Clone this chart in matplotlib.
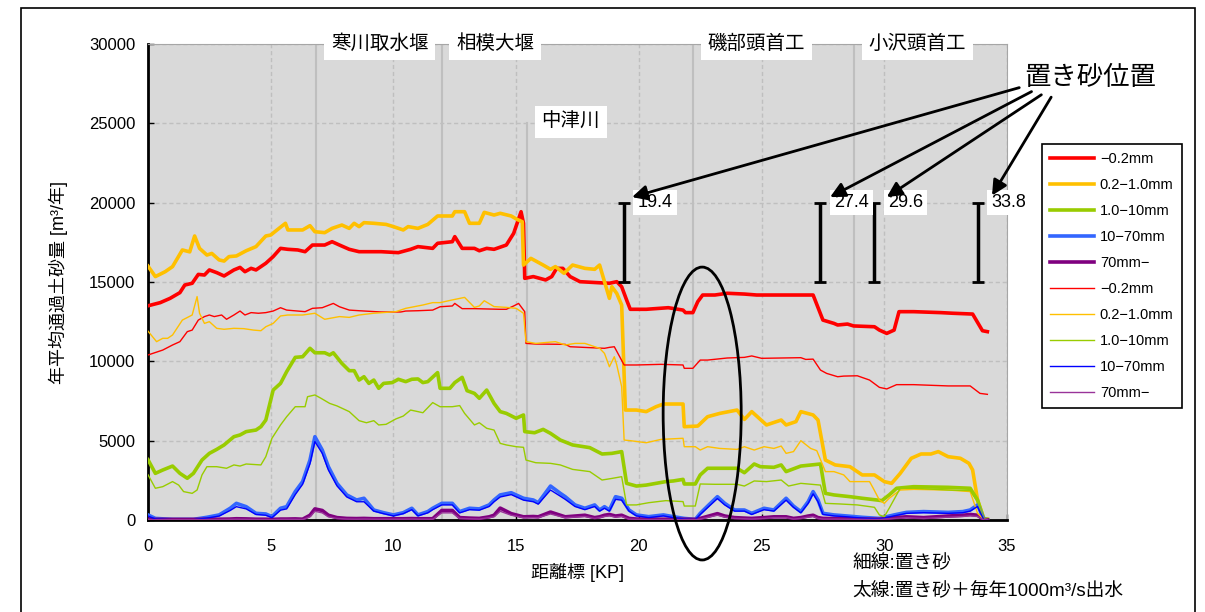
import matplotlib
matplotlib.use("Agg")
import matplotlib.pyplot as plt
import matplotlib.patches as patches

plt.rcParams["font.family"] = ["Liberation Sans", "Noto Sans CJK JP", "DejaVu Sans"]

# ---- data (KP, annual sediment transport m3/yr) ----
kp_red_thick = [0.0, 0.5, 0.9, 1.3, 1.5, 1.8, 2.05, 2.3, 2.5, 2.8, 3.1, 3.5, 3.75, 3.95, 4.2, 4.4, 4.8, 5.1, 5.4, 5.7,
                6.1, 6.4, 6.7, 7.2, 7.5, 7.8, 8.2, 8.6, 9.5, 10.2, 10.7, 11.0, 11.6, 11.8, 12.4, 12.5, 12.8, 13.3, 13.5,
                13.8, 14.1, 14.6, 14.9, 15.2, 15.3, 15.35, 15.7, 16.2, 16.45, 16.65, 16.9, 17.2, 17.6, 18.3, 18.8, 19.1,
                19.3, 19.5, 19.65, 20.3, 21.2, 21.8, 21.9, 22.2, 22.4, 22.6, 23.1, 23.6, 24.3, 24.8, 27.1, 27.5, 27.95,
                28.1, 28.5, 28.75, 29.6, 29.8, 30.1, 30.4, 30.6, 31.2, 32.3, 32.8, 33.6, 34.0, 34.2]
red_thick = [13500, 13700, 13970, 14330, 14810, 14920, 15480, 15440, 15760, 15590, 15380, 15760, 15920, 15650, 15860,
             15760, 16180, 16600, 17120, 17060, 17020, 16910, 17330, 17330, 17540, 17330, 17060, 16910, 16910, 16850,
             17060, 17230, 17120, 17440, 17540, 17860, 17120, 17120, 16970, 17120, 17060, 17330, 18070, 19430, 18700,
             15230, 15340, 15130, 15340, 15860, 15860, 15340, 15020, 14960, 14920, 15020, 14700, 13870, 13280, 13280,
             13380, 13230, 13070, 13070, 13760, 14180, 14180, 14290, 14240, 14180, 14180, 12600, 12390, 12290, 12350,
             12230, 12180, 11970, 11760, 11970, 13130, 13130, 13070, 13030, 12980, 11930, 11870]

kp_red_thin = [0.0, 0.6, 1.0, 1.3, 1.6, 1.8, 2.05, 2.3, 2.5, 2.7, 3.0, 3.2, 3.5, 3.75, 3.95, 4.2, 4.5, 4.8, 5.1, 5.4,
               5.65, 6.1, 6.4, 6.7, 7.1, 7.55, 7.8, 8.2, 8.6, 9.5, 10.3, 10.5, 11.0, 11.6, 11.9, 12.4, 12.5, 12.8, 13.3,
               14.35, 14.6, 14.9, 15.1, 15.35, 15.4, 15.8, 17.0, 17.2, 18.6, 18.8, 19.0, 19.4, 19.9, 20.9, 21.8, 21.85,
               22.2, 22.5, 22.8, 23.6, 24.3, 24.6, 25.0, 26.6, 26.8, 27.1, 27.4, 27.65, 28.1, 28.35, 28.9, 29.4, 29.8,
               30.1, 30.5, 31.2, 32.6, 33.5, 33.9, 34.2]
red_thin = [10400, 10710, 11030, 11240, 11870, 11970, 12600, 12820, 12920, 12820, 12920, 12650, 12920, 13170, 12920,
            13070, 13030, 13070, 13170, 13380, 13230, 13170, 13130, 13340, 13380, 13650, 13440, 13230, 13190, 13110,
            13110, 13170, 13190, 13230, 13440, 13490, 13650, 13320, 13320, 13280, 13280, 13490, 13650, 13130, 11130,
            11090, 11070, 10920, 10820, 10880, 10920, 9770, 9770, 9810, 9770, 9560, 9560, 10080, 10080, 10210, 10250,
            10340, 10190, 10230, 10120, 10140, 9450, 9240, 9030, 9070, 9090, 8820, 8360, 8260, 8530, 8530, 8450, 8450,
            7980, 7920]

kp_yel_thick = [0.0, 0.3, 0.7, 1.0, 1.4, 1.7, 1.9, 2.1, 2.4, 2.6, 2.9, 3.1, 3.3, 3.6, 4.0, 4.4, 4.8, 5.0, 5.2, 5.6, 5.7,
                6.3, 6.6, 6.8, 7.2, 7.5, 7.9, 8.2, 8.4, 8.6, 8.8, 9.2, 9.7, 10.0, 10.4, 10.6, 11.0, 11.4, 11.8, 12.4,
                12.5, 12.9, 13.1, 13.5, 13.7, 14.1, 14.35, 14.8, 15.03, 15.25, 15.3, 15.6, 16.1, 16.4, 16.6, 16.95,
                17.3, 17.8, 18.2, 18.4, 18.8, 18.9, 19.1, 19.3, 19.45, 19.9, 20.3, 20.7, 21.0, 21.8, 21.85, 22.4, 22.8,
                23.3, 24.0, 24.3, 24.6, 25.2, 25.8, 26.0, 26.4, 26.6, 27.1, 27.3, 27.6, 28.0, 28.6, 29.1, 29.6, 30.0,
                30.3, 30.65, 31.1, 31.5, 31.9, 32.2, 32.6, 33.1, 33.45, 33.6, 33.8, 34.05, 34.2]
yel_thick = [16000, 15340, 15650, 15970, 17020, 16900, 17900, 17120, 16700, 16800, 16390, 16320, 16600, 16640, 16970,
             17230, 17900, 17960, 18210, 18700, 18280, 18280, 18550, 18170, 18110, 18380, 18590, 18380, 18700, 18490,
             18740, 18700, 18630, 18490, 18280, 18490, 18380, 18630, 19160, 19160, 19430, 19430, 18700, 18700, 19390,
             19220, 19330, 19160, 18950, 18800, 16070, 16490, 16070, 15800, 15970, 15550, 16070, 15860, 15800, 16070,
             13970, 14700, 14280, 13550, 6930, 6930, 6830, 7140, 7310, 7310, 5880, 5920, 6510, 6720, 6930, 6340, 6830,
             5990, 6300, 5990, 6200, 6830, 6620, 6300, 3780, 3470, 3360, 2840, 2840, 2420, 2310, 2940, 3890, 4160, 4160,
             4310, 3990, 3890, 3570, 3150, 1260, 100, 50]

kp_yel_thin = [0.0, 0.35, 0.6, 0.8, 1.0, 1.4, 1.8, 2.0, 2.1, 2.3, 2.5, 2.8, 3.1, 3.5, 3.9, 4.3, 4.6, 4.8, 5.1, 5.4, 5.7,
               6.3, 6.8, 7.2, 7.8, 8.2, 8.6, 9.2, 10.1, 10.5, 11.2, 11.6, 11.9, 12.4, 12.9, 13.3, 13.5, 13.7, 14.1, 14.6,
               15.0, 15.3, 15.4, 15.8, 16.6, 17.0, 17.4, 17.8, 18.4, 18.6, 18.8, 19.0, 19.1, 19.3, 19.4, 19.65, 20.3,
               20.9, 21.8, 21.85, 22.3, 22.5, 22.8, 23.3, 24.0, 24.3, 24.7, 25.1, 25.5, 25.8, 26.0, 26.3, 26.6, 27.0,
               27.25, 27.6, 27.95, 28.35, 28.6, 29.4, 29.55, 29.8, 30.0, 30.2, 30.65, 31.2, 32.6, 33.5, 33.8, 34.05,
               34.2]
yel_thin = [11900, 11240, 11450, 11450, 11660, 12600, 12920, 14080, 13030, 12390, 12500, 12080, 12020, 12080, 12060,
            11970, 11930, 12180, 12390, 12860, 12920, 12920, 13030, 12650, 12820, 12770, 12920, 13030, 13130, 13340,
            13550, 13700, 13700, 13870, 14030, 13400, 13490, 13820, 13450, 13400, 13340, 13030, 11240, 11130, 11240,
            11030, 11130, 11130, 10820, 10500, 9660, 10290, 9770, 8400, 5040, 5000, 4870, 5080, 5150, 4620, 4620, 4410,
            4620, 4510, 4450, 4620, 4410, 4620, 4510, 4660, 4200, 4310, 5000, 4510, 4370, 3050, 3050, 2840, 2420, 2420,
            2000, 1260, 1050, 1370, 1890, 1930, 1890, 1790, 420, 50, 30]

kp_grn_thick = [0.0, 0.3, 0.6, 1.0, 1.3, 1.6, 1.85, 2.2, 2.5, 2.8, 3.1, 3.5, 3.75, 4.0, 4.4, 4.6, 4.8, 5.1, 5.4, 5.65,
                6.0, 6.3, 6.6, 6.8, 7.2, 7.4, 7.55, 7.9, 8.2, 8.4, 8.6, 8.8, 9.0, 9.2, 9.4, 9.6, 9.95, 10.2, 10.5,
                10.75, 11.0, 11.2, 11.4, 11.8, 11.9, 12.3, 12.5, 12.8, 13.0, 13.3, 13.5, 13.8, 14.1, 14.35, 14.6, 15.0,
                15.3, 15.35, 15.75, 16.1, 16.4, 16.8, 17.3, 18.0, 18.5, 18.9, 19.3, 19.5, 19.9, 20.3, 20.7, 21.1, 21.4,
                21.8, 21.85, 22.3, 22.5, 22.8, 24.0, 24.3, 24.7, 24.95, 25.5, 25.8, 26.0, 26.6, 27.4, 27.6, 27.95,
                28.6, 29.1, 29.7, 29.9, 30.2, 30.5, 31.2, 32.6, 33.5, 33.8, 34.05, 34.2]
grn_thick = [3800, 2940, 3150, 3400, 2940, 2630, 2940, 3780, 4200, 4450, 4730, 5250, 5360, 5570, 5670, 5880, 6300, 8190,
             8610, 9350, 10250, 10290, 10820, 10540, 10540, 10400, 10540, 9870, 9410, 9410, 8820, 9030, 8610, 8820,
             8300, 8610, 8660, 8870, 8720, 8870, 8890, 8660, 8720, 9290, 8300, 8300, 8660, 8990, 8150, 7980, 7670, 8190,
             7350, 6830, 6720, 6410, 6620, 5570, 5500, 5710, 5460, 5040, 4730, 4560, 4160, 4200, 4310, 2310, 2140, 2200,
             2310, 2420, 2460, 2560, 2270, 2270, 2840, 3260, 3260, 2980, 3530, 3360, 3320, 3470, 3050, 3400, 3530, 1680,
             1580, 1470, 1370, 1260, 1220, 1580, 2000, 2100, 2060, 2000, 1260, 100, 50]

kp_grn_thin = [0.0, 0.3, 0.6, 1.0, 1.25, 1.45, 1.8, 2.0, 2.2, 2.4, 2.8, 3.2, 3.5, 3.75, 4.0, 4.6, 4.8, 5.05, 5.4, 5.65,
               6.0, 6.4, 6.5, 6.8, 7.05, 7.4, 7.7, 8.2, 8.6, 8.9, 9.2, 9.4, 9.7, 10.1, 10.4, 10.7, 11.0, 11.2, 11.6,
               11.9, 12.4, 12.7, 12.9, 13.3, 13.5, 13.8, 14.1, 14.35, 14.6, 15.0, 15.3, 15.4, 15.8, 16.4, 16.8, 17.3,
               18.0, 18.5, 18.9, 19.3, 19.5, 19.9, 20.4, 21.1, 21.8, 21.85, 22.3, 22.5, 23.1, 24.0, 24.3, 24.7, 25.2,
               25.8, 26.1, 26.6, 27.4, 27.6, 28.2, 28.9, 29.6, 29.8, 30.0, 30.2, 30.65, 31.2, 32.6, 33.5, 33.8, 34.05,
               34.2]
grn_thin = [2850, 2000, 2100, 2420, 2200, 1790, 1680, 1890, 2840, 3360, 3360, 3260, 3470, 3400, 3530, 3470, 3990, 5150,
            5990, 6510, 7140, 7140, 7770, 7880, 7670, 7350, 7190, 6830, 6260, 6130, 6260, 5990, 6030, 6370, 6550, 6930,
            6830, 6760, 7400, 7140, 7140, 7210, 6720, 5990, 6130, 5780, 5670, 4830, 4730, 4620, 4580, 3780, 3610, 3570,
            3470, 3190, 3050, 2520, 2620, 2730, 950, 950, 1090, 1220, 1160, 880, 880, 2270, 2250, 2250, 2140, 2460, 2420,
            2520, 2140, 2310, 2200, 1050, 1010, 950, 800, 320, 210, 740, 2000, 2000, 1890, 1850, 1160, 40, 20]

kp_fine = [0.0, 0.3, 1.0, 1.85, 2.4, 2.9, 3.35, 3.6, 4.0, 4.4, 4.8, 5.05, 5.4, 5.65, 6.0, 6.3, 6.6, 6.8, 7.1, 7.35, 7.7,
           8.1, 8.5, 8.8, 9.2, 9.6, 10.0, 10.4, 10.75, 11.0, 11.4, 11.6, 11.97, 12.4, 12.7, 13.1, 13.5, 13.9, 14.1,
           14.35, 14.8, 15.3, 15.7, 15.9, 16.4, 16.8, 17.0, 17.4, 17.8, 18.2, 18.4, 18.6, 18.8, 19.05, 19.3, 19.6,
           19.9, 20.4, 21.0, 21.4, 21.85, 22.3, 22.5, 22.85, 23.2, 23.5, 23.9, 24.3, 24.6, 25.1, 25.5, 26.0, 26.3,
           26.6, 26.9, 27.1, 27.3, 27.5, 27.95, 28.5, 29.1, 29.8, 30.4, 30.9, 31.6, 32.6, 33.2, 33.5, 33.8, 34.05,
           34.2]
blu_thick = [320, 100, 40, 40, 170, 320, 740, 1050, 840, 420, 380, 210, 740, 840, 1790, 2420, 3780, 5250, 4410, 3360,
             2310, 1580, 1260, 1370, 630, 460, 320, 460, 740, 320, 530, 740, 1050, 1050, 530, 740, 700, 950, 1260, 1580,
             1720, 1370, 1260, 1090, 2140, 1680, 1470, 950, 740, 950, 630, 840, 630, 1470, 1370, 630, 320, 210, 320, 210,
             100, 40, 420, 950, 1470, 1050, 630, 630, 420, 740, 630, 1370, 880, 530, 1160, 1790, 1260, 420, 320, 250,
             170, 100, 320, 480, 530, 480, 530, 630, 950, 40, 20]
blu_thin = [250, 60, 20, 20, 120, 250, 600, 840, 700, 350, 300, 150, 620, 700, 1600, 2250, 3550, 4940, 4200, 3150, 2150,
            1450, 1150, 1150, 560, 400, 260, 400, 650, 260, 450, 650, 950, 950, 450, 650, 620, 850, 1150, 1450, 1600,
            1250, 1150, 1000, 1890, 1500, 1300, 850, 650, 850, 560, 740, 560, 1300, 1250, 560, 260, 150, 260, 150, 60,
            20, 350, 850, 1350, 950, 560, 560, 350, 650, 560, 1250, 800, 450, 1050, 1650, 1150, 350, 260, 200, 120, 60,
            260, 420, 460, 420, 460, 560, 850, 20, 10]
pur_thick = [50, 40, 40, 40, 50, 50, 60, 80, 70, 50, 50, 40, 60, 60, 70, 50, 300, 700, 600, 300, 150, 100, 90, 100, 80,
             80, 80, 80, 90, 80, 80, 80, 600, 600, 150, 120, 100, 200, 300, 750, 400, 200, 220, 200, 500, 300, 200, 250,
             300, 150, 200, 300, 350, 250, 300, 100, 60, 50, 50, 50, 50, 40, 100, 250, 400, 250, 150, 120, 100, 150, 200,
             200, 100, 150, 250, 300, 150, 100, 90, 80, 60, 50, 150, 200, 150, 250, 300, 350, 300, 20, 10]
pur_thin = [30, 20, 20, 20, 30, 30, 40, 50, 40, 30, 30, 20, 40, 40, 40, 30, 200, 550, 450, 200, 100, 60, 50, 60, 50, 50,
            50, 50, 60, 50, 50, 50, 450, 450, 100, 80, 60, 150, 200, 550, 300, 150, 150, 150, 380, 220, 150, 180, 220,
            100, 150, 220, 260, 180, 220, 60, 40, 30, 30, 30, 30, 20, 60, 180, 300, 180, 100, 80, 60, 100, 150, 150, 60,
            100, 180, 220, 100, 60, 60, 50, 40, 30, 100, 150, 100, 180, 220, 260, 220, 10, 5]

size_labels = ["\u22120.2mm", "0.2\u22121.0mm", "1.0\u221210mm", "10\u221270mm", "70mm\u2212"]

weir_names = ["寒川取水堰", "相模大堰", "磯部頭首工", "小沢頭首工"]
weir_kp = [6.85, 11.96, 22.21, 28.77]
tributary_name = "中津川"
tributary_kp = 15.43

sand_kp = [19.4, 27.4, 29.6, 33.8]
sand_low, sand_high = 15000, 20000

# ---- figure ----
fig = plt.figure(figsize=(12.05, 6.12), dpi=100)
ax = fig.add_axes([148 / 1205, 92 / 612, 859 / 1205, 476 / 612])
ax.set_facecolor("#d9d9d9")
ax.set_xlim(0, 35)
ax.set_ylim(0, 30000)
ax.set_xticks(range(0, 36, 5))
ax.set_yticks(range(0, 30001, 5000))
ax.grid(True, color="#bfbfbf", linestyle=(0, (3, 2)), linewidth=1)
ax.set_axisbelow(True)
for s in ["top", "right"]:
    ax.spines[s].set_color("#a6a6a6")
for s in ["left", "bottom"]:
    ax.spines[s].set_color("black")
    ax.spines[s].set_linewidth(2)
ax.tick_params(direction="in", length=4, width=1, labelsize=12)
ax.tick_params(axis="x", pad=14)
ax.tick_params(axis="y", pad=9)

for k in weir_kp:
    ax.axvline(k, color="#bfbfbf", lw=1.5, zorder=1)
ax.plot([tributary_kp, tributary_kp], [0, 25000], color="#bfbfbf", lw=1.5, zorder=1)

thick_cols = ["#ff0000", "#ffc000", "#99cc00", "#3366ff", "#7f007f"]
thin_cols = ["#ff0000", "#ffc000", "#99cc00", "#0000ff", "#993399"]
thick_series = [(kp_red_thick, red_thick), (kp_yel_thick, yel_thick), (kp_grn_thick, grn_thick),
                (kp_fine, blu_thick), (kp_fine, pur_thick)]
thin_series = [(kp_red_thin, red_thin), (kp_yel_thin, yel_thin), (kp_grn_thin, grn_thin),
               (kp_fine, blu_thin), (kp_fine, pur_thin)]
handles = []
for (x, y), c, lab in zip(thick_series, thick_cols, size_labels):
    h, = ax.plot(x, y, color=c, lw=2.6, label=lab, zorder=3)
    handles.append(h)
for (x, y), c, lab in zip(thin_series, thin_cols, size_labels):
    h, = ax.plot(x, y, color=c, lw=1.0, label=lab, zorder=4)
    handles.append(h)

leg = ax.legend(handles=handles, loc="upper left", bbox_to_anchor=(1.041, 0.79), fontsize=10.5,
                frameon=True, fancybox=False, edgecolor="black", framealpha=1, borderpad=0.55,
                labelspacing=0.82, handlelength=3.0, handletextpad=0.4, borderaxespad=0)
leg.get_frame().set_linewidth(1.2)

# placement markers
ax.errorbar(sand_kp, [(sand_low + sand_high) / 2] * len(sand_kp), yerr=(sand_high - sand_low) / 2,
            fmt="none", ecolor="black", elinewidth=2.5, capsize=4, capthick=2, zorder=6)
for k in sand_kp:
    ax.text(k + 0.55, 20000, f"{k}", ha="left", va="center", fontsize=13, zorder=7,
            bbox=dict(facecolor="white", edgecolor="none", pad=3))

# weir / tributary labels
box = dict(facecolor="white", edgecolor="none", boxstyle="square,pad=0.35")
for name, k in zip(weir_names, weir_kp):
    ax.text(k + 0.6, 30000, name, ha="left", va="center", fontsize=14, bbox=box, clip_on=False, zorder=7)
ax.text(tributary_kp + 0.6, 25100, tributary_name, ha="left", va="center", fontsize=14, bbox=box, zorder=7)

# arrows from "置き砂位置"
fig.text(1090 / 1205, 1 - 78 / 612, "置き砂位置", ha="center", va="center", fontsize=19)
arrow_tails = [(35.5, 27250), (36.0, 27000), (36.4, 26800), (36.8, 26650)]
arrow_heads = [(19.72, 20350), (27.79, 20350), (30.1, 20350), (34.39, 20450)]
for t, h in zip(arrow_tails, arrow_heads):
    ax.annotate("", xy=h, xytext=t, annotation_clip=False, zorder=8,
                arrowprops=dict(arrowstyle="-|>,head_length=0.9,head_width=0.45", color="black",
                                lw=2, shrinkA=0, shrinkB=0))

# highlight ellipse
ell = patches.Ellipse((22.58, 6710), 3.18, 18460, fill=False, edgecolor="black", lw=2,
                      clip_on=False, zorder=8)
ax.add_patch(ell)

ax.set_ylabel("年平均通過土砂量 [m³/年]", fontsize=13)
ax.yaxis.set_label_coords(-0.093, 0.5)
ax.set_xlabel("距離標 [KP]", fontsize=13, labelpad=6)

fig.text(852 / 1205, 1 - 563 / 612, "細線:置き砂", fontsize=13.5, va="center")
fig.text(852 / 1205, 1 - 591 / 612, "太線:置き砂＋毎年1000m³/s出水", fontsize=13.5, va="center")

fig.patches.append(patches.Rectangle((21 / 1205, -0.05), 1174 / 1205, 1 - 8 / 612 + 0.05,
                                     transform=fig.transFigure, fill=False, edgecolor="black", lw=1.2))

fig.savefig("out.png", dpi=100)
